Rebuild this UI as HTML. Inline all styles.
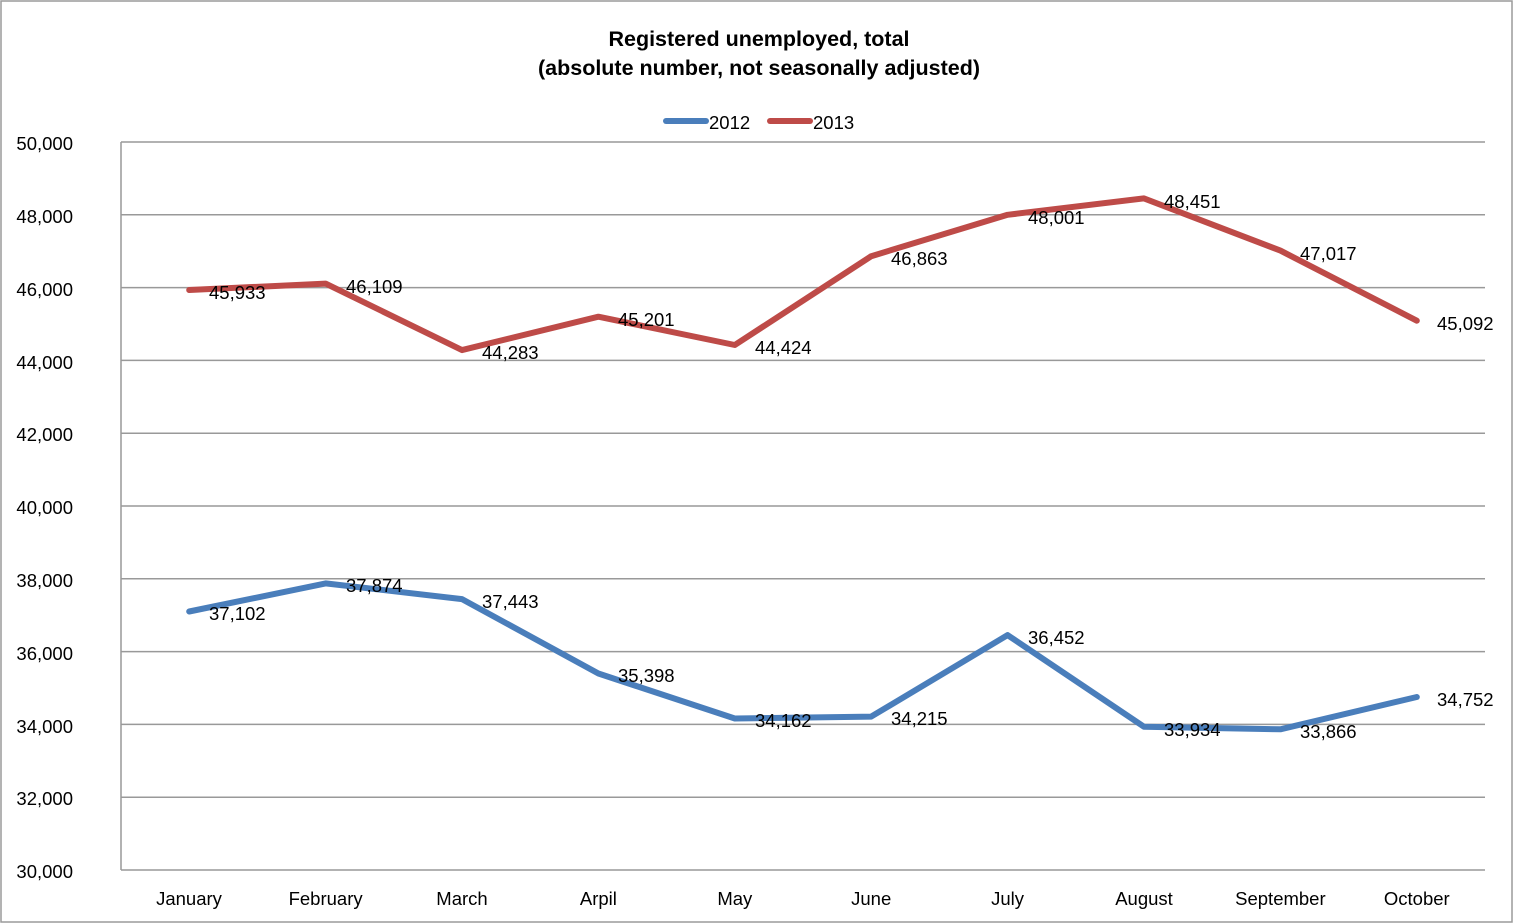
<!DOCTYPE html>
<html><head><meta charset="utf-8"><style>
html,body{margin:0;padding:0;background:#fff}
svg{display:block;font-family:"Liberation Sans",sans-serif}
</style></head><body>
<svg width="1514" height="924" viewBox="0 0 1514 924" xmlns="http://www.w3.org/2000/svg">
<rect x="1" y="1" width="1511" height="921" fill="#fff" stroke="#9a9a9a" stroke-width="1.5"/>
<text x="759" y="46" text-anchor="middle" font-size="21.5" font-weight="bold">Registered unemployed, total</text>
<text x="759" y="75" text-anchor="middle" font-size="21.5" font-weight="bold">(absolute number, not seasonally adjusted)</text>
<line x1="666" y1="121" x2="706" y2="121" stroke="#4a7ebb" stroke-width="6" stroke-linecap="round"/>
<text x="709" y="129" font-size="18.5">2012</text>
<line x1="770" y1="121" x2="810" y2="121" stroke="#be4b48" stroke-width="6" stroke-linecap="round"/>
<text x="813" y="129" font-size="18.5">2013</text>
<g stroke="#999" stroke-width="1.5">
<line x1="121" y1="142" x2="1485" y2="142"/>
<line x1="121" y1="214.8" x2="1485" y2="214.8"/>
<line x1="121" y1="287.6" x2="1485" y2="287.6"/>
<line x1="121" y1="360.4" x2="1485" y2="360.4"/>
<line x1="121" y1="433.2" x2="1485" y2="433.2"/>
<line x1="121" y1="506" x2="1485" y2="506"/>
<line x1="121" y1="578.8" x2="1485" y2="578.8"/>
<line x1="121" y1="651.6" x2="1485" y2="651.6"/>
<line x1="121" y1="724.4" x2="1485" y2="724.4"/>
<line x1="121" y1="797.2" x2="1485" y2="797.2"/>
<line x1="121" y1="870" x2="1485" y2="870"/>
<line x1="121" y1="142" x2="121" y2="870"/>
</g>
<g font-size="18.5" text-anchor="end">
<text x="73" y="150">50,000</text>
<text x="73" y="223">48,000</text>
<text x="73" y="296">46,000</text>
<text x="73" y="369">44,000</text>
<text x="73" y="441">42,000</text>
<text x="73" y="514">40,000</text>
<text x="73" y="587">38,000</text>
<text x="73" y="660">36,000</text>
<text x="73" y="733">34,000</text>
<text x="73" y="805">32,000</text>
<text x="73" y="878">30,000</text>
</g>
<g font-size="18.5" text-anchor="middle">
<text x="189" y="905">January</text>
<text x="325.6" y="905">February</text>
<text x="462" y="905">March</text>
<text x="598.4" y="905">Arpil</text>
<text x="734.8" y="905">May</text>
<text x="871.2" y="905">June</text>
<text x="1007.6" y="905">July</text>
<text x="1144" y="905">August</text>
<text x="1280.4" y="905">September</text>
<text x="1416.8" y="905">October</text>
</g>
<polyline fill="none" stroke="#4a7ebb" stroke-width="6" stroke-linejoin="round" stroke-linecap="round" points="189.2,611.5 325.6,583.4 462,599.1 598.4,673.5 734.8,718.5 871.2,716.6 1007.6,635.1 1144,726.8 1280.4,729.3 1416.8,697"/>
<polyline fill="none" stroke="#be4b48" stroke-width="6" stroke-linejoin="round" stroke-linecap="round" points="189.2,290 325.6,283.6 462,350.1 598.4,316.7 734.8,345 871.2,256.2 1007.6,214.8 1144,198.4 1280.4,250.6 1416.8,320.7"/>
<g font-size="18.5">
<text x="209" y="620">37,102</text>
<text x="346" y="592">37,874</text>
<text x="482" y="608">37,443</text>
<text x="618" y="682">35,398</text>
<text x="755" y="727">34,162</text>
<text x="891" y="725">34,215</text>
<text x="1028" y="644">36,452</text>
<text x="1164" y="736">33,934</text>
<text x="1300" y="738">33,866</text>
<text x="1437" y="706">34,752</text>
<text x="209" y="299">45,933</text>
<text x="346" y="293">46,109</text>
<text x="482" y="359">44,283</text>
<text x="618" y="326">45,201</text>
<text x="755" y="354">44,424</text>
<text x="891" y="265">46,863</text>
<text x="1028" y="224">48,001</text>
<text x="1164" y="208">48,451</text>
<text x="1300" y="260">47,017</text>
<text x="1437" y="330">45,092</text>
</g>
</svg>
</body></html>
